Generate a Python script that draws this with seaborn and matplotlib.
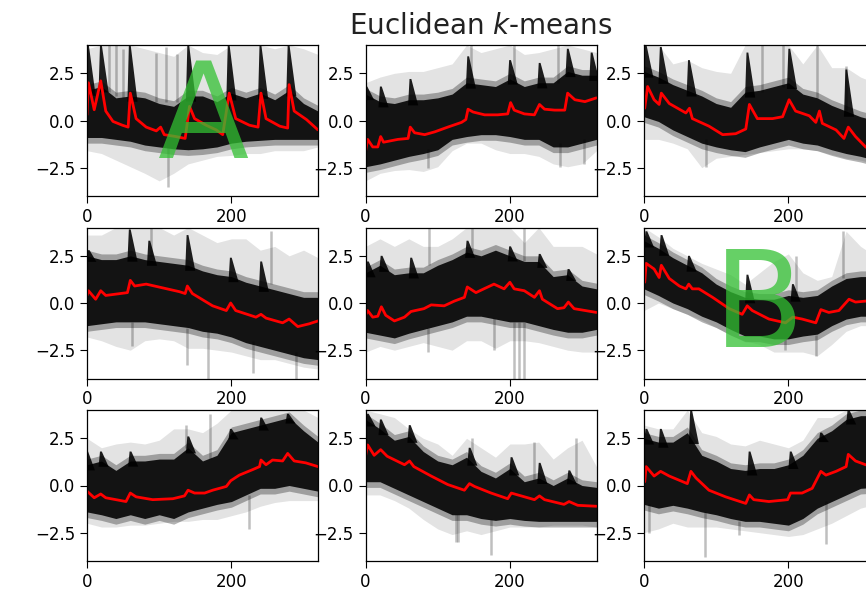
import numpy as np
import matplotlib
matplotlib.use("Agg")
import matplotlib.pyplot as plt
import seaborn as sns

# ---------------- data ----------------
GRID = [0, 20, 40, 60, 80, 100, 120, 140, 160, 180, 200, 220, 240, 260, 280, 300, 320]
X_TICKS = [0, 200]
Y_TICKS = [-2.5, 0.0, 2.5]
TITLE = "Euclidean $k$-means"

# cluster centroids (red)
c0_x = [0, 2, 10, 19, 26, 36, 49, 57, 60, 68, 82, 96, 102, 107, 123, 136, 142, 149, 165, 179, 188, 197, 206, 225, 237, 241, 248, 267, 278, 280, 287, 304, 320]
c0_y = [0.3, 2.0, 0.57, 2.1, 0.5, -0.05, -0.25, -0.35, 1.45, 0.1, -0.35, -0.55, -0.35, -0.75, -0.85, -0.95, 0.75, 0.1, -0.25, -0.5, -0.75, 1.45, 0.1, -0.25, -0.35, 1.45, 0.1, -0.3, -0.4, 1.9, 0.5, 0.05, -0.5]
c1_x = [0, 3, 10, 17, 21, 25, 45, 59, 62, 68, 82, 96, 114, 133, 139, 142, 149, 165, 183, 197, 201, 206, 220, 234, 241, 248, 262, 276, 280, 290, 304, 320]
c1_y = [-1.65, -1.0, -1.4, -1.4, -0.85, -1.15, -1.0, -0.95, -0.35, -0.65, -0.75, -0.6, -0.35, -0.1, 0.05, 0.6, 0.45, 0.3, 0.3, 0.35, 0.95, 0.55, 0.35, 0.3, 0.85, 0.6, 0.55, 0.55, 1.45, 1.1, 1.0, 1.2]
c2_x = [1, 5, 14, 21, 24, 35, 58, 63, 67, 90, 109, 127, 141, 146, 157, 178, 192, 201, 210, 229, 238, 243, 247, 266, 277, 283, 293, 307, 320]
c2_y = [0.65, 1.8, 1.1, 0.85, 1.45, 0.9, 0.4, 0.65, 0.1, -0.3, -0.75, -0.7, -0.45, 0.85, 0.1, 0.1, 0.2, 1.1, 0.5, 0.25, -0.1, 0.5, -0.15, -0.5, -0.95, -0.35, -0.85, -1.4, -1.7]
c3_x = [0, 2, 12, 19, 26, 56, 60, 66, 82, 105, 128, 136, 139, 146, 174, 193, 199, 206, 234, 241, 248, 271, 280, 292, 308, 320]
c3_y = [0.4, 0.65, 0.2, 0.65, 0.4, 0.55, 1.2, 0.9, 1.0, 0.8, 0.6, 0.5, 0.9, 0.5, -0.15, -0.4, 0.0, -0.4, -0.75, -0.6, -0.8, -1.05, -0.85, -1.25, -1.1, -0.95]
c4_x = [0, 3, 10, 17, 22, 28, 40, 54, 63, 81, 91, 109, 123, 137, 141, 153, 164, 178, 192, 200, 206, 220, 234, 241, 245, 266, 275, 281, 289, 320]
c4_y = [-0.65, -0.4, -0.75, -0.7, -0.2, -0.65, -0.95, -0.75, -0.45, -0.3, -0.1, -0.15, 0.1, 0.3, 0.85, 0.55, 0.75, 1.0, 0.75, 1.1, 0.75, 0.65, 0.3, 0.65, 0.2, -0.3, -0.25, 0.05, -0.3, -0.5]
c5_x = [1, 3, 14, 21, 24, 35, 49, 58, 62, 67, 76, 95, 118, 136, 143, 150, 173, 196, 206, 219, 238, 245, 256, 270, 284, 293, 307, 320]
c5_y = [1.1, 2.1, 1.8, 1.35, 2.0, 1.3, 0.9, 0.75, 1.0, 0.75, 0.75, 0.3, -0.3, -0.6, -0.15, -0.4, -0.85, -1.05, -0.75, -0.85, -1.05, -0.35, -0.5, -0.4, 0.2, 0.05, 0.1, 0.1]
c6_x = [0, 10, 19, 26, 54, 60, 68, 91, 119, 135, 140, 149, 163, 174, 193, 199, 211, 230, 239, 241, 248, 257, 271, 278, 287, 303, 320]
c6_y = [-0.3, -0.65, -0.45, -0.65, -0.85, -0.4, -0.6, -0.75, -0.7, -0.55, -0.25, -0.4, -0.4, -0.25, -0.05, 0.25, 0.55, 0.85, 1.0, 1.35, 1.1, 1.35, 1.3, 1.7, 1.3, 1.2, 1.0]
c7_x = [0, 3, 12, 21, 30, 54, 61, 67, 91, 114, 137, 144, 151, 174, 197, 202, 211, 234, 241, 248, 275, 282, 294, 320]
c7_y = [1.55, 2.15, 1.6, 1.9, 1.55, 1.1, 1.3, 1.0, 0.5, 0.05, -0.25, 0.1, -0.05, -0.4, -0.7, -0.4, -0.5, -0.75, -0.55, -0.75, -1.0, -0.85, -1.05, -1.1]
c8_x = [1, 3, 14, 23, 35, 60, 65, 72, 90, 113, 141, 146, 152, 173, 199, 203, 219, 233, 245, 252, 266, 280, 283, 293, 307, 320]
c8_y = [0.2, 1.0, 0.5, 0.75, 0.5, 0.1, 0.75, 0.4, -0.25, -0.6, -0.95, -0.5, -0.75, -0.85, -0.75, -0.4, -0.4, -0.15, 0.75, 0.55, 0.75, 1.0, 1.65, 1.3, 1.1, 1.0]

# dense (dark) part of the member series: upper / lower edge on GRID
core0_hi = [1.6, 1.8, 1.2, 1.3, 1.2, 0.9, 0.75, 1.3, 1.3, 1.0, 1.45, 1.2, 1.45, 1.1, 1.6, 0.9, 0.5]
core0_lo = [-0.9, -0.9, -1.0, -1.1, -1.3, -1.4, -1.5, -1.55, -1.5, -1.4, -1.2, -1.1, -1.05, -1.0, -1.0, -1.0, -1.0]
core1_hi = [1.4, 1.0, 0.9, 1.1, 1.1, 1.2, 1.4, 2.0, 1.9, 1.8, 2.2, 1.8, 2.0, 2.0, 2.6, 2.4, 2.4]
core1_lo = [-2.45, -2.3, -2.1, -1.9, -1.75, -1.55, -1.0, -0.85, -0.75, -0.75, -0.85, -1.0, -1.0, -1.4, -1.4, -1.2, -1.0]
core2_hi = [2.6, 2.3, 1.9, 1.6, 1.3, 0.9, 0.7, 1.5, 1.6, 1.8, 2.0, 1.4, 1.2, 0.8, 0.5, 0.2, 0.0]
core2_lo = [0.2, -0.05, -0.5, -0.85, -1.2, -1.4, -1.55, -1.65, -1.4, -1.2, -1.0, -1.2, -1.3, -1.55, -1.75, -1.9, -2.1]
core3_hi = [2.5, 2.3, 2.3, 2.5, 2.3, 2.2, 2.1, 2.0, 1.7, 1.5, 1.4, 1.1, 0.9, 0.7, 0.5, 0.3, 0.3]
core3_lo = [-1.2, -1.1, -1.0, -1.0, -1.0, -1.1, -1.2, -1.3, -1.5, -1.6, -1.8, -2.1, -2.3, -2.5, -2.7, -2.9, -3.0]
core4_hi = [1.6, 2.0, 1.5, 1.6, 1.6, 2.0, 2.3, 2.7, 2.5, 2.8, 2.5, 2.2, 2.2, 1.4, 1.5, 0.9, 0.75]
core4_lo = [-1.55, -1.7, -1.85, -1.6, -1.4, -1.2, -1.0, -0.7, -0.7, -0.85, -1.0, -1.0, -1.2, -1.4, -1.55, -1.55, -1.4]
core5_hi = [3.3, 2.9, 2.4, 2.0, 1.6, 1.0, 0.6, 0.3, 0.2, 0.2, 0.4, 0.3, 0.4, 0.9, 1.3, 1.4, 1.4]
core5_lo = [0.75, 0.4, 0.0, -0.3, -0.7, -1.0, -1.4, -1.75, -1.75, -1.9, -1.9, -1.75, -1.65, -1.2, -0.85, -0.7, -0.7]
core6_hi = [1.1, 1.3, 0.8, 1.3, 1.3, 1.4, 1.4, 2.0, 1.3, 1.6, 2.8, 3.0, 3.2, 3.4, 3.6, 2.9, 2.3]
core6_lo = [-1.4, -1.55, -1.75, -1.55, -1.75, -1.55, -1.75, -1.4, -1.2, -1.0, -0.85, -0.5, -0.15, -0.15, 0.0, -0.15, -0.3]
core7_hi = [3.5, 3.0, 2.4, 2.6, 1.8, 1.3, 1.1, 1.5, 0.75, 0.4, 0.9, 0.2, 0.4, 0.0, 0.4, 0.0, -0.1]
core7_lo = [0.2, 0.2, -0.15, -0.5, -0.85, -1.2, -1.55, -1.55, -1.75, -1.85, -1.75, -1.85, -1.9, -1.9, -1.9, -1.9, -1.9]
core8_hi = [2.5, 2.3, 2.3, 2.8, 1.6, 1.3, 0.9, 0.8, 0.9, 0.9, 1.1, 1.6, 2.5, 2.9, 3.5, 3.7, 3.7]
core8_lo = [-1.0, -1.2, -1.05, -1.2, -1.4, -1.55, -1.75, -1.9, -1.9, -2.0, -2.1, -1.75, -1.2, -0.85, -0.5, -0.15, -0.1]

# faint (outlying) part of the member series on GRID
out0_hi = [3.8, 4, 4, 4, 3.8, 3.6, 3.4, 4, 3.6, 3.5, 4, 4, 4, 3.8, 4, 3.8, 3.5]
out0_lo = [-1.6, -1.75, -2.1, -2.45, -2.8, -3.2, -2.8, -2.3, -2.1, -1.9, -1.85, -1.75, -1.75, -1.6, -1.6, -1.6, -1.4]
out1_hi = [2.0, 2.3, 2.5, 2.6, 2.6, 2.8, 3.0, 4, 3.6, 3.8, 4, 3.5, 3.6, 3.8, 4, 3.8, 3.6]
out1_lo = [-3.2, -2.8, -2.65, -2.6, -2.7, -2.45, -1.6, -1.2, -1.2, -1.55, -1.75, -1.75, -1.9, -2.3, -2.45, -2.3, -1.6]
out2_hi = [4, 4, 3.0, 3.2, 2.8, 2.6, 2.5, 4, 4, 4, 4, 3.0, 4, 2.8, 2.8, 2.3, 2.0]
out2_lo = [-1.0, -1.0, -1.2, -1.5, -2.5, -2.0, -1.9, -1.8, -1.7, -1.6, -1.5, -1.5, -1.6, -1.8, -2.0, -2.1, -2.3]
out3_hi = [3.6, 3.6, 4, 4, 4, 4, 3.6, 4, 3.6, 3.2, 3.4, 3.4, 2.8, 3.0, 2.5, 2.8, 2.4]
out3_lo = [-1.8, -2.0, -2.3, -2.5, -2.0, -1.9, -2.0, -2.4, -2.4, -2.5, -2.6, -2.8, -3.0, -3.0, -3.2, -3.4, -3.5]
out4_hi = [3.0, 3.4, 3.0, 3.4, 3.0, 3.0, 3.4, 4, 4, 4, 4, 3.2, 4, 3.0, 3.0, 3.0, 2.6]
out4_lo = [-2.6, -2.3, -2.5, -2.3, -2.1, -2.3, -2.5, -2.0, -2.0, -2.4, -2.0, -2.0, -2.1, -2.3, -2.5, -2.6, -2.6]
out5_hi = [4, 3.5, 2.9, 2.5, 2.1, 1.8, 1.5, 1.0, 1.6, 2.2, 2.6, 1.6, 1.2, 1.4, 3.8, 3.0, 2.5]
out5_lo = [-0.4, 0.0, -0.3, -0.6, -0.9, -1.3, -1.7, -2.0, -2.2, -2.6, -2.6, -2.6, -2.8, -2.2, -1.5, -1.2, -1.2]
out6_hi = [2.5, 2.0, 2.2, 2.3, 2.2, 2.4, 3.0, 3.0, 2.8, 3.3, 4, 4, 4, 4, 4, 4, 3.6]
out6_lo = [-2.0, -2.2, -2.2, -2.1, -2.1, -2.0, -1.9, -1.9, -1.8, -1.8, -1.6, -1.4, -1.1, -0.9, -0.8, -0.8, -0.8]
out7_hi = [4, 3.8, 3.6, 3.0, 2.5, 2.2, 1.6, 2.5, 2.0, 1.5, 2.2, 2.2, 2.3, 1.4, 2.0, 2.4, 1.0]
out7_lo = [-0.5, -0.5, -0.8, -1.2, -1.8, -2.3, -2.6, -2.4, -2.6, -2.4, -2.2, -2.2, -2.2, -2.1, -2.1, -2.1, -2.2]
out8_hi = [3.2, 3.0, 3.0, 4, 2.8, 2.6, 2.2, 2.1, 2.4, 2.2, 2.0, 2.4, 3.6, 3.6, 4, 4, 4]
out8_lo = [-2.5, -2.3, -2.0, -2.2, -2.2, -2.2, -2.3, -2.4, -2.5, -2.6, -2.7, -2.6, -2.3, -2.0, -1.6, -1.2, -1.0]

# synchronous dark peaks of the member series
spk0_x = [1, 19, 59, 140, 196, 240, 279]
spk0_top = [4, 4, 4, 4, 4, 4, 4]
spk1_x = [1, 21, 62, 142, 200, 241, 280, 313]
spk1_top = [1.8, 1.8, 2.2, 3.4, 3.2, 3.05, 3.8, 3.6]
spk2_x = [2, 23, 62, 143, 201, 280]
spk2_top = [4, 3.9, 3.2, 3.6, 3.8, 2.7]
spk3_x = [2, 59, 86, 139, 199, 241]
spk3_top = [2.8, 3.9, 3.3, 3.6, 2.4, 2.2]
spk4_x = [3, 22, 63, 141, 200, 241, 281]
spk4_top = [2.2, 2.5, 2.4, 3.3, 3.0, 2.6, 1.8]
spk5_x = [3, 24, 62, 143, 206]
spk5_top = [3.8, 3.6, 2.5, 1.5, 1.0]
spk6_x = [0, 19, 60, 140, 199, 241, 278]
spk6_top = [1.8, 1.8, 1.8, 2.6, 3.0, 3.6, 3.8]
spk7_x = [3, 21, 61, 144, 202, 241, 282]
spk7_top = [3.8, 3.5, 3.2, 2.0, 1.5, 1.2, 0.8]
spk8_x = [3, 23, 65, 146, 203, 245, 283]
spk8_top = [3.0, 3.0, 4.0, 1.8, 1.8, 2.8, 4.0]

# isolated faint excursions of single series (x, from, to)
str0_x = [112, 31, 40, 50, 95, 110, 125]
str0_a = [-1.0, 1.5, 1.3, 1.2, 1.0, 1.0, 1.0]
str0_b = [-3.5, 4, 4, 3.8, 3.6, 3.9, 3.5]
str1_x = [86, 270, 303, 146, 206, 266]
str1_a = [-1.5, -1.2, -1.0, 2.0, 2.0, 2.0]
str1_b = [-2.5, -2.45, -2.3, 4, 4, 4]
str2_x = [86, 164, 192, 240, 280]
str2_a = [-1.0, 1.5, 1.8, 1.2, 0.5]
str2_b = [-2.45, 4, 4, 4, 2.9]
str3_x = [63, 139, 167, 230, 290, 88, 255]
str3_a = [-1.0, -1.3, -1.5, -2.0, -2.6, 2.5, 1.0]
str3_b = [-2.3, -3.3, -4, -3.7, -4, 4, 3.8]
str4_x = [86, 178, 206, 213, 220, 88, 148, 220]
str4_a = [-1.3, -0.8, -1.0, -1.0, -1.0, 2.0, 2.7, 2.2]
str4_b = [-2.6, -2.5, -4, -4, -4, 4, 4, 4]
str5_x = [196, 238, 210, 275]
str5_a = [-1.9, -1.7, 0.4, 1.3]
str5_b = [-2.5, -2.8, 2.5, 3.8]
str6_x = [225, 137, 170]
str6_a = [-0.5, 2.0, 1.4]
str6_b = [-2.3, 3.2, 3.8]
str7_x = [125, 128, 174, 148, 234, 292]
str7_a = [-1.5, -1.5, -1.8, 1.5, 0.3, 0.2]
str7_b = [-3.0, -3.0, -3.7, 2.5, 2.3, 2.5]
str8_x = [85, 252, 7, 132]
str8_a = [-1.4, -0.8, -1.0, -1.9]
str8_b = [-3.8, -3.1, -2.5, -2.6]

LETTERS = ["A", "B"]

panels = [
    (c0_x, c0_y, core0_hi, core0_lo, out0_hi, out0_lo, spk0_x, spk0_top, str0_x, str0_a, str0_b),
    (c1_x, c1_y, core1_hi, core1_lo, out1_hi, out1_lo, spk1_x, spk1_top, str1_x, str1_a, str1_b),
    (c2_x, c2_y, core2_hi, core2_lo, out2_hi, out2_lo, spk2_x, spk2_top, str2_x, str2_a, str2_b),
    (c3_x, c3_y, core3_hi, core3_lo, out3_hi, out3_lo, spk3_x, spk3_top, str3_x, str3_a, str3_b),
    (c4_x, c4_y, core4_hi, core4_lo, out4_hi, out4_lo, spk4_x, spk4_top, str4_x, str4_a, str4_b),
    (c5_x, c5_y, core5_hi, core5_lo, out5_hi, out5_lo, spk5_x, spk5_top, str5_x, str5_a, str5_b),
    (c6_x, c6_y, core6_hi, core6_lo, out6_hi, out6_lo, spk6_x, spk6_top, str6_x, str6_a, str6_b),
    (c7_x, c7_y, core7_hi, core7_lo, out7_hi, out7_lo, spk7_x, spk7_top, str7_x, str7_a, str7_b),
    (c8_x, c8_y, core8_hi, core8_lo, out8_hi, out8_lo, spk8_x, spk8_top, str8_x, str8_a, str8_b),
]

# ---------------- drawing ----------------
sns.set_theme(style="ticks")
plt.rcParams["font.family"] = ["DejaVu Sans"]
plt.rcParams.update({
    "xtick.labelsize": 12, "ytick.labelsize": 12,
    "xtick.major.size": 5, "ytick.major.size": 5,
    "xtick.major.width": 0.8, "ytick.major.width": 0.8,
    "axes.linewidth": 0.9, "axes.edgecolor": "black",
    "xtick.color": "black", "ytick.color": "black",
    "text.color": "#222222",
})

W, H = 866, 605
fig = plt.figure(figsize=(W / 100, H / 100), dpi=100)

col_left = [87, 365.5, 644]
row_top = [45, 227.5, 410]
aw, ah = 231, 151

for i, (cx, cy, chi, clo, ohi, olo, sx, stop, tx, ta, tb) in enumerate(panels):
    r, c = divmod(i, 3)
    ax = fig.add_axes([col_left[c] / W, 1 - (row_top[r] + ah) / H, aw / W, ah / H])
    # faint outliers: light veil
    ax.fill_between(GRID, olo, ohi, color="black", alpha=0.11, lw=0)
    ax.vlines(tx, ta, tb, color="black", alpha=0.25, lw=1.8)
    # dense mass of member series
    hi = np.asarray(chi, float)
    lo = np.asarray(clo, float)
    ax.fill_between(GRID, lo - 0.3, hi + 0.3, color="black", alpha=0.3, lw=0)
    ax.fill_between(GRID, lo, hi, color="black", alpha=0.88, lw=0)
    for xs, top in zip(sx, stop):
        base = np.interp(xs, GRID, chi) - 0.3
        ax.fill([xs - 3, xs - 1, xs + 1.5, xs + 11], [base, top, top, base],
                color="black", alpha=0.88, lw=0)
    sns.lineplot(x=cx, y=cy, color="red", lw=2.0, ax=ax, estimator=None, sort=False)
    ax.set_xlim(0, 320)
    ax.set_ylim(-4, 4)
    ax.set_xticks(X_TICKS)
    ax.set_yticks(Y_TICKS)
    for s in ax.spines.values():
        s.set_visible(True)
    if i == 1:
        ax.set_title(TITLE, fontsize=20, pad=8)

green = "#33c133"
fig.text(204 / W, 1 - 158 / H, LETTERS[0], fontsize=96, color=green, alpha=0.75,
         ha="center", va="baseline", zorder=10)
fig.text(759 / W, 1 - 347 / H, LETTERS[1], fontsize=96, color=green, alpha=0.75,
         ha="center", va="baseline", zorder=10)

fig.savefig("out.png", dpi=100)
